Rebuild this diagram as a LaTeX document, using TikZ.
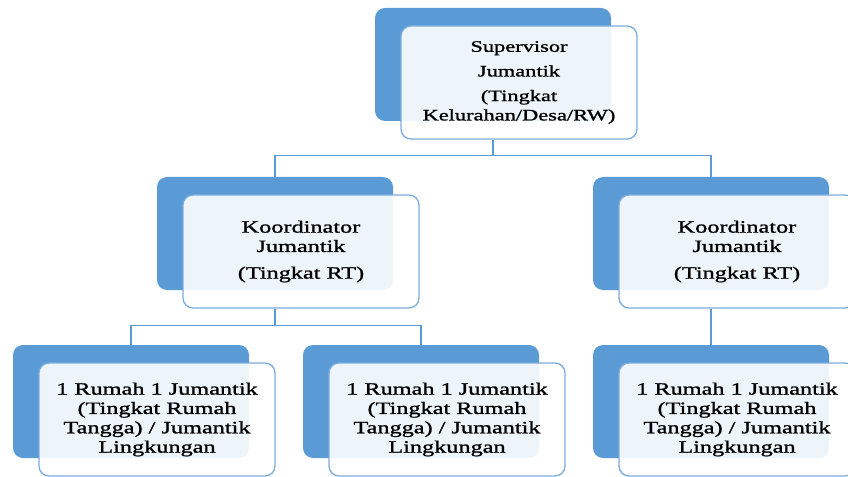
\documentclass[tikz,border=0pt]{standalone}
\usepackage{fontspec}
\setmainfont[FakeStretch=1.4,FakeBold=1.2]{Liberation Serif}
\definecolor{boxblue}{RGB}{91,155,213}
\definecolor{lineblue}{RGB}{125,172,222}
\begin{document}
\begin{tikzpicture}[x=0.75pt,y=-0.75pt]
		\tikzstyle{back}=[rectangle,rounded corners=7.5pt,fill=boxblue,minimum width=177pt,minimum height=84.75pt,inner sep=0pt]
		\tikzstyle{front}=[rectangle,rounded corners=7.5pt,draw=lineblue,line width=1pt,fill=white,fill opacity=0.9,text opacity=1,minimum width=177pt,minimum height=84.75pt,align=center,inner sep=2pt]
		\tikzstyle{edge}=[draw=boxblue,line width=0.9pt]

		\useasboundingbox (0,0) rectangle (848,477);

		 \node [back] (svb) at (493,64.5) {};
		 \node [back] (k1b) at (275,233.5) {};
		 \node [back] (k2b) at (711,233.5) {};
		 \node [back] (r1b) at (131,401.5) {};
		 \node [back] (r2b) at (421,401.5) {};
		 \node [back] (r3b) at (711,401.5) {};

		 \node [front,font=\fontsize{12}{14.5}\selectfont] (sv) at (519,82.5) {Supervisor\\[4pt] Jumantik\\[4pt] (Tingkat\\ Kelurahan/Desa/RW)};
		 \node [front,font=\fontsize{13}{14.5}\selectfont] (k1) at (301,251.5) {Koordinator\\ Jumantik\\[5.5pt] (Tingkat RT)};
		 \node [front,font=\fontsize{13}{14.5}\selectfont] (k2) at (737,251.5) {Koordinator\\ Jumantik\\[5.5pt] (Tingkat RT)};
		 \node [front,font=\fontsize{13}{14.5}\selectfont] (r1) at (157,419.5) {1 Rumah 1 Jumantik\\ (Tingkat Rumah\\ Tangga) / Jumantik\\ Lingkungan};
		 \node [front,font=\fontsize{13}{14.5}\selectfont] (r2) at (447,419.5) {1 Rumah 1 Jumantik\\ (Tingkat Rumah\\ Tangga) / Jumantik\\ Lingkungan};
		 \node [front,font=\fontsize{13}{14.5}\selectfont] (r3) at (737,419.5) {1 Rumah 1 Jumantik\\ (Tingkat Rumah\\ Tangga) / Jumantik\\ Lingkungan};

		 \path[edge] (svb.south |- sv.south) -- ++(0,16) -| (k1b.north);
		 \path[edge] (svb.south |- sv.south) -- ++(0,16) -| (k2b.north);
		 \path[edge] (k1b.south |- k1.south) -- ++(0,17) -| (r1b.north);
		 \path[edge] (k1b.south |- k1.south) -- ++(0,17) -| (r2b.north);
		 \path[edge] (k2b.south |- k2.south) -- (r3b.north);

	\end{tikzpicture}
\end{document}
